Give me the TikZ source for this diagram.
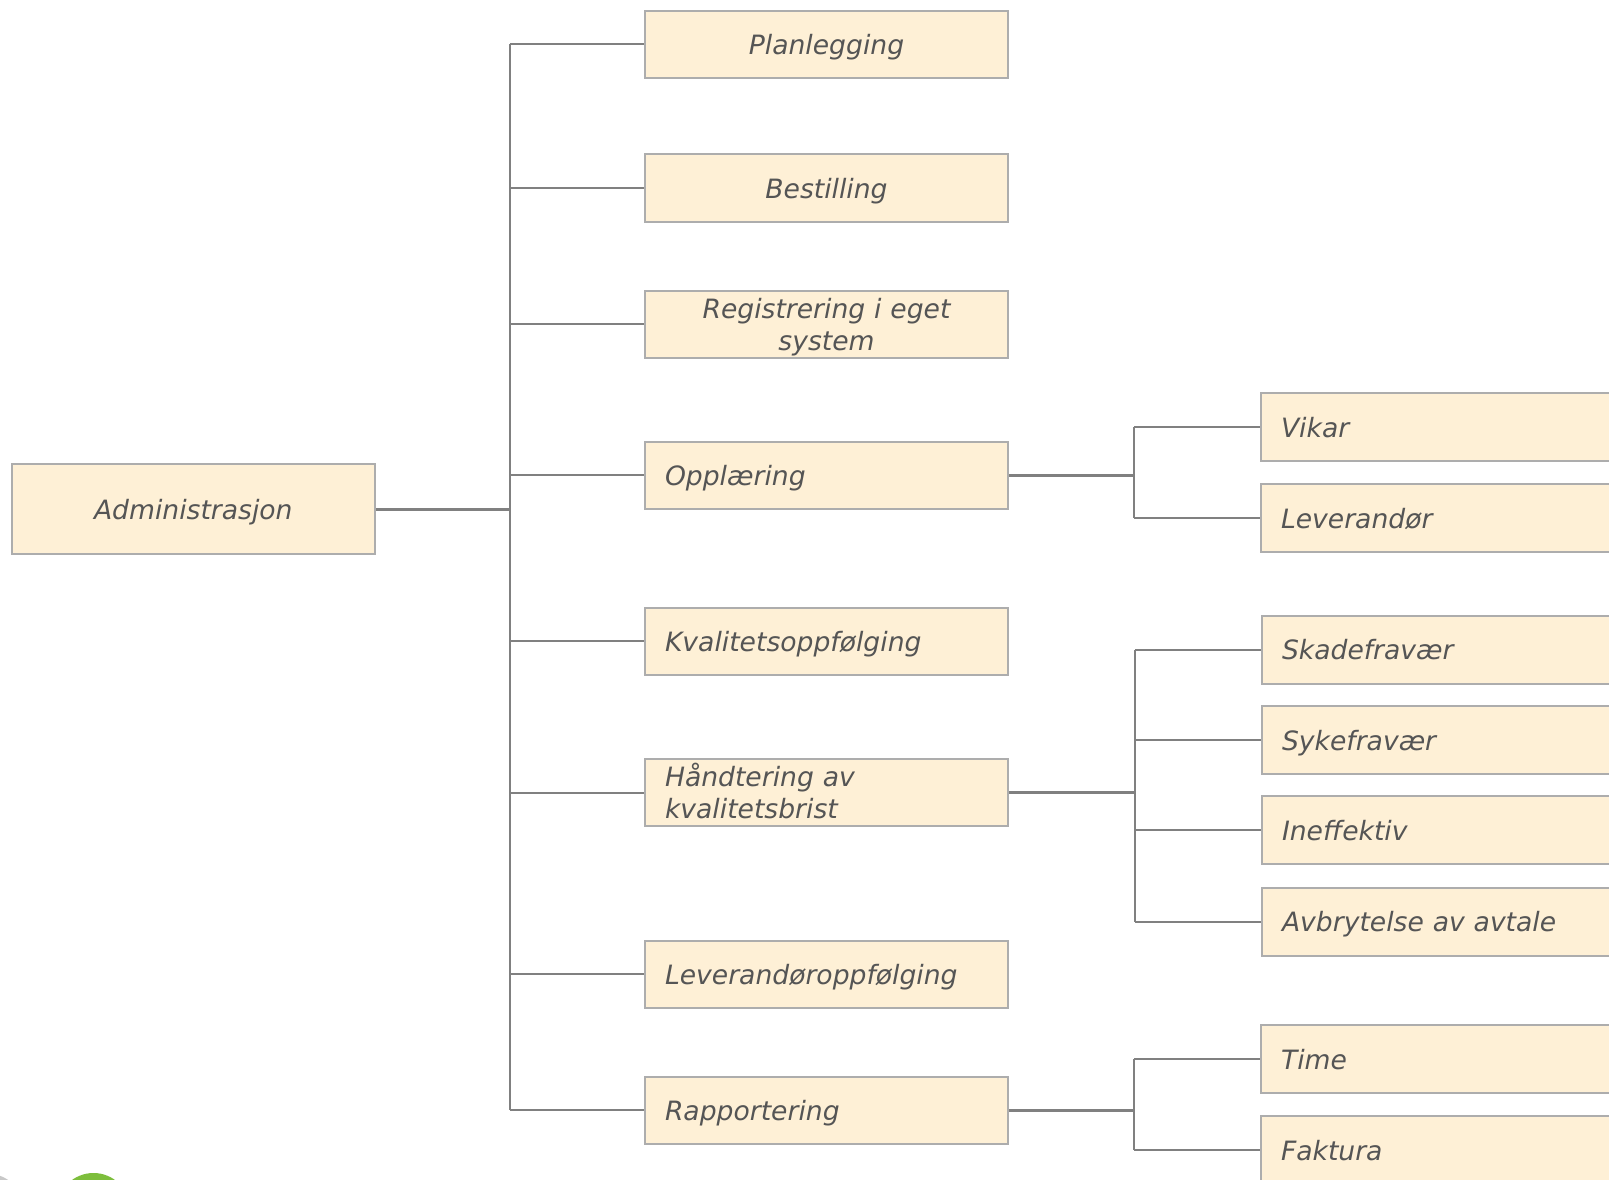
\documentclass[tikz,border=0pt]{standalone}
\usepackage{fontspec}
\setmainfont{DejaVu Sans}
\definecolor{boxfill}{HTML}{FEF0D6}
\definecolor{boxline}{HTML}{ADADAD}
\definecolor{wire}{HTML}{808080}
\definecolor{txt}{HTML}{555555}
\definecolor{logogreen}{HTML}{7DBE3C}
\definecolor{logogray}{HTML}{C8C8C8}
\begin{document}
\begin{tikzpicture}[x=1pt,y=-1pt,
  box/.style={draw=boxline, fill=boxfill, line width=2pt, text=txt,
    font=\fontsize{26.6}{32}\selectfont\itshape,
    text height=20.4pt, text depth=0pt, inner ysep=0pt, inner xsep=20pt},
  midbox/.style={box, text width=323pt, minimum height=67pt},
  lbox/.style={midbox, align=left},
  cbox/.style={midbox, align=center},
  subbox/.style={box, anchor=west, text width=380pt, align=left, minimum height=68pt},
  twoline/.style={text depth=32pt},
  parentwire/.style={draw=wire, line width=3pt},
  childwire/.style={draw=wire, line width=2pt}
]
\useasboundingbox (0,0) rectangle (1609,1180);
\clip (0,0) rectangle (1609,1180);
\fill[white] (0,0) rectangle (1609,1180);

% logo fragments at the lower left
\fill[logogray] (-15,1215) circle (42);
\fill[logogreen] (93.5,1209.5) circle (36.5);

% root
\node[box, minimum width=363pt, minimum height=90pt, align=center] (adm) at (193.3,509) {Administrasjon};

% first level
\node[cbox] (plan) at (826.5,44.2) {Planlegging};
\node[cbox] (best) at (826.5,188) {Bestilling};
\node[cbox, twoline] (reg) at (826.5,324) {Registrering i eget\\system};
\node[lbox] (opp) at (826.5,475) {Opplæring};
\node[lbox] (kval) at (826.5,641) {Kvalitetsoppfølging};
\node[lbox, twoline] (hand) at (826.5,792.5) {Håndtering av\\kvalitetsbrist};
\node[lbox] (lev) at (826.5,974) {Leverandøroppfølging};
\node[lbox] (rap) at (826.5,1110) {Rapportering};

% second level
\node[subbox] (vikar) at (1260,427) {Vikar};
\node[subbox] (levr) at (1260,518) {Leverandør};
\node[subbox] (skade) at (1261,649.5) {Skadefravær};
\node[subbox] (syke) at (1261,740) {Sykefravær};
\node[subbox] (ineff) at (1261,830) {Ineffektiv};
\node[subbox] (avbr) at (1261,921.5) {Avbrytelse av avtale};
\node[subbox] (time) at (1260,1059) {Time};
\node[subbox] (fakt) at (1260,1150) {Faktura};

% junction points
\coordinate (trunk) at (510,509);
\coordinate (j1) at (1134,475);
\coordinate (j2) at (1135,792.5);
\coordinate (j3) at (1134,1110);

% root to first level
\draw[parentwire] (adm.east) -- (trunk);
\draw[childwire] (trunk |- plan.west) -- (trunk |- rap.west);
\foreach \n in {plan,best,reg,opp,kval,hand,lev,rap}
  \draw[childwire] (trunk |- \n.west) -- (\n.west);

% first level to second level
\draw[parentwire] (opp.east) -- (j1);
\draw[childwire] (j1 |- vikar.west) -- (j1 |- levr.west);
\foreach \n in {vikar,levr}
  \draw[childwire] (j1 |- \n.west) -- (\n.west);

\draw[parentwire] (hand.east) -- (j2);
\draw[childwire] (j2 |- skade.west) -- (j2 |- avbr.west);
\foreach \n in {skade,syke,ineff,avbr}
  \draw[childwire] (j2 |- \n.west) -- (\n.west);

\draw[parentwire] (rap.east) -- (j3);
\draw[childwire] (j3 |- time.west) -- (j3 |- fakt.west);
\foreach \n in {time,fakt}
  \draw[childwire] (j3 |- \n.west) -- (\n.west);
\end{tikzpicture}
\end{document}
